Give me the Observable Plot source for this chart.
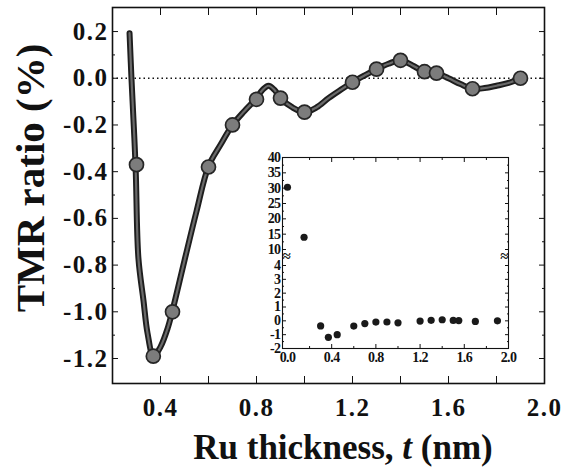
<!DOCTYPE html>
<html><head><meta charset="utf-8">
<script src="https://cdn.jsdelivr.net/npm/d3@7"></script>
<script src="https://cdn.jsdelivr.net/npm/@observablehq/plot@0.6"></script>
<style>
body{margin:0;background:#fff;}
#wrap{position:relative;width:576px;height:470px;overflow:hidden;background:#fff;}
#inset{position:absolute;left:250px;top:145px;}
</style></head><body><div id="wrap"><div id="main"></div><div id="inset"></div></div>
<script>
// Measured points (main panel)
const thickness = [0.30,0.37,0.45,0.60,0.70,0.80,0.90,1.00,1.20,1.30,1.40,1.50,1.55,1.70,1.90];
const tmr = [-0.37,-1.19,-1.00,-0.38,-0.20,-0.09,-0.085,-0.145,-0.017,0.039,0.077,0.028,0.022,-0.045,0.0];
// Extra thin-spacer points only shown in the inset
const thinThickness = [0.0, 0.15];
const thinTmr = [30.3, 14.0];
// Fit curve
const fitThickness = [0.271,0.279,0.296,0.308,0.329,0.346,0.371,0.40,0.43,0.45,0.50,0.55,0.60,0.65,0.70,0.75,0.796,0.825,0.85,0.875,0.90,0.95,1.00,1.05,1.10,1.15,1.20,1.25,1.30,1.35,1.40,1.45,1.50,1.55,1.60,1.65,1.70,1.75,1.80,1.85,1.90];
const fitTmr = [0.193,0.0,-0.373,-0.771,-0.951,-1.092,-1.191,-1.15,-1.07,-0.994,-0.78,-0.57,-0.377,-0.285,-0.20,-0.14,-0.09,-0.05,-0.032,-0.05,-0.085,-0.125,-0.145,-0.125,-0.085,-0.05,-0.017,0.012,0.039,0.062,0.077,0.055,0.028,0.022,0.0,-0.025,-0.045,-0.042,-0.032,-0.02,0.0];

// Tick labels
const majorY = [-1.2,-1.0,-0.8,-0.6,-0.4,-0.2,0.0,0.2];
const minorY = [-1.1,-0.9,-0.7,-0.5,-0.3,-0.1,0.1];
const tickX = [0.4,0.6,0.8,1.0,1.2,1.4,1.6,1.8];
const labelX = [0.4,0.8,1.2,1.6,2.0];

const insetMajorY = [-2,-1,0,1,2,3,4,10,15,20,25,30,35,40];
const insetMinorY = [-1.5,-0.5,0.5,1.5,2.5,3.5,12.5,17.5,22.5,27.5,32.5,37.5];
const insetMajorX = [0.4,0.8,1.2,1.6];
const insetMinorX = [0.2,0.6,1.0,1.4,1.8];
const insetLabelX = [0.0,0.4,0.8,1.2,1.6,2.0];
const breakAt = [7.5];

const points = thickness.map((t,i)=>({t, r: tmr[i]}));
const fit = fitThickness.map((t,i)=>({t, r: fitTmr[i]}));
const insetPoints = thinThickness.map((t,i)=>({t, r: thinTmr[i]})).concat(points);

const blank = () => "";
const fmt = d => d.toFixed(1);
const FONT = "'Liberation Serif'";

const main = Plot.plot({
  width: 576, height: 470,
  marginLeft: 112, marginRight: 32, marginTop: 7, marginBottom: 87,
  x: {domain: [0.2, 2.0]},
  y: {domain: [-1.307, 0.303]},
  style: "font-family:'Liberation Serif';font-weight:bold;font-size:25px;background:white;color:#111",
  marks: [
    Plot.ruleY([0], {stroke: "#111", strokeWidth: 1.4, strokeDasharray: "1.5,3"}),
    Plot.line(fit, {x: "t", y: "r", curve: "catmull-rom", stroke: "#1e1e1e", strokeWidth: 6}),
    Plot.line(fit, {x: "t", y: "r", curve: "catmull-rom", stroke: "#6a6a6a", strokeWidth: 2.2}),
    Plot.dot(points, {x: "t", y: "r", r: 7, fill: "#7c7c7c", stroke: "#262626", strokeWidth: 1.7}),
    Plot.axisY({anchor: "left", ticks: majorY, tickSize: -6, tickFormat: blank, label: null}),
    Plot.axisY({anchor: "left", ticks: minorY, tickSize: -3, tickFormat: blank, label: null}),
    Plot.axisY({anchor: "right", ticks: majorY, tickSize: -6, tickFormat: blank, label: null}),
    Plot.axisY({anchor: "right", ticks: minorY, tickSize: -3, tickFormat: blank, label: null}),
    Plot.axisY({anchor: "left", ticks: majorY, tickSize: 0, tickPadding: 4, tickFormat: fmt, label: null}),
    Plot.axisX({anchor: "bottom", ticks: tickX, tickSize: -7, tickFormat: blank, label: null}),
    Plot.axisX({anchor: "top", ticks: tickX, tickSize: -7, tickFormat: blank, label: null}),
    Plot.axisX({anchor: "bottom", ticks: labelX, tickSize: 0, tickPadding: 15, tickFormat: fmt, label: null}),
    Plot.frame({stroke: "#111", strokeWidth: 1.6})
  ]
});
document.getElementById("main").appendChild(main);
d3.select(main).selectAll("text")
  .style("font-family", FONT).style("font-weight", "bold")
  .style("font-size", "25px").style("letter-spacing", "1.5px");

// Axis titles (mixed italic needs tspans)
const svg = d3.select(main);
svg.append("text")
  .attr("transform", "translate(44,178) rotate(-90)")
  .attr("text-anchor", "middle")
  .style("font-family", FONT).style("font-weight", "bold")
  .style("font-size", "41px").attr("fill", "#111")
  .text("TMR ratio (%)");
const xt = svg.append("text")
  .attr("x", 343).attr("y", 459).attr("text-anchor", "middle")
  .style("font-family", FONT).style("font-weight", "bold")
  .style("font-size", "35px").attr("fill", "#111");
xt.append("tspan").text("Ru thickness, ");
xt.append("tspan").style("font-style", "italic").text("t");
xt.append("tspan").text(" (nm)");

const inset = Plot.plot({
  width: 270, height: 230,
  marginLeft: 32, marginRight: 12, marginTop: 12, marginBottom: 27,
  x: {domain: [-0.045, 2.0]},
  y: {type: "linear", domain: [-2, 4, 10, 40], range: [203, 120, 104, 12]},
  style: "font-family:'Liberation Serif';font-weight:bold;font-size:14px;background:transparent;color:#111",
  marks: [
    Plot.frame({fill: "white", stroke: "#111", strokeWidth: 1.1}),
    Plot.dot(insetPoints, {x: "t", y: "r", r: 3.6, fill: "#1a1a1a"}),
    Plot.axisY({anchor: "left", ticks: insetMajorY, tickSize: -4, tickFormat: blank, label: null}),
    Plot.axisY({anchor: "left", ticks: insetMinorY, tickSize: -2, tickFormat: blank, label: null}),
    Plot.axisY({anchor: "right", ticks: insetMajorY, tickSize: -4, tickFormat: blank, label: null}),
    Plot.axisY({anchor: "right", ticks: insetMinorY, tickSize: -2, tickFormat: blank, label: null}),
    Plot.axisY({anchor: "left", ticks: insetMajorY, tickSize: 0, tickPadding: 2, tickFormat: d => String(d), label: null}),
    Plot.axisX({anchor: "bottom", ticks: insetMajorX, tickSize: -4, tickFormat: blank, label: null}),
    Plot.axisX({anchor: "bottom", ticks: insetMinorX, tickSize: -2, tickFormat: blank, label: null}),
    Plot.axisX({anchor: "top", ticks: insetMajorX, tickSize: -4, tickFormat: blank, label: null}),
    Plot.axisX({anchor: "top", ticks: insetMinorX, tickSize: -2, tickFormat: blank, label: null}),
    Plot.axisX({anchor: "bottom", ticks: insetLabelX, tickSize: 0, tickPadding: 4, tickFormat: fmt, label: null}),
    Plot.text(breakAt, {y: d => d, frameAnchor: "left", text: () => "≈"}),
    Plot.text(breakAt, {y: d => d, frameAnchor: "right", text: () => "≈"})
  ]
});
document.getElementById("inset").appendChild(inset);
d3.select(inset).selectAll("text")
  .style("font-family", FONT).style("font-weight", "bold")
  .style("font-size", "14px").style("letter-spacing", "-0.6px");
d3.select(inset).selectAll("text").filter(function(){ return this.textContent === "≈"; })
  .style("font-size", "15px").style("letter-spacing", "0px");
</script></body></html>
